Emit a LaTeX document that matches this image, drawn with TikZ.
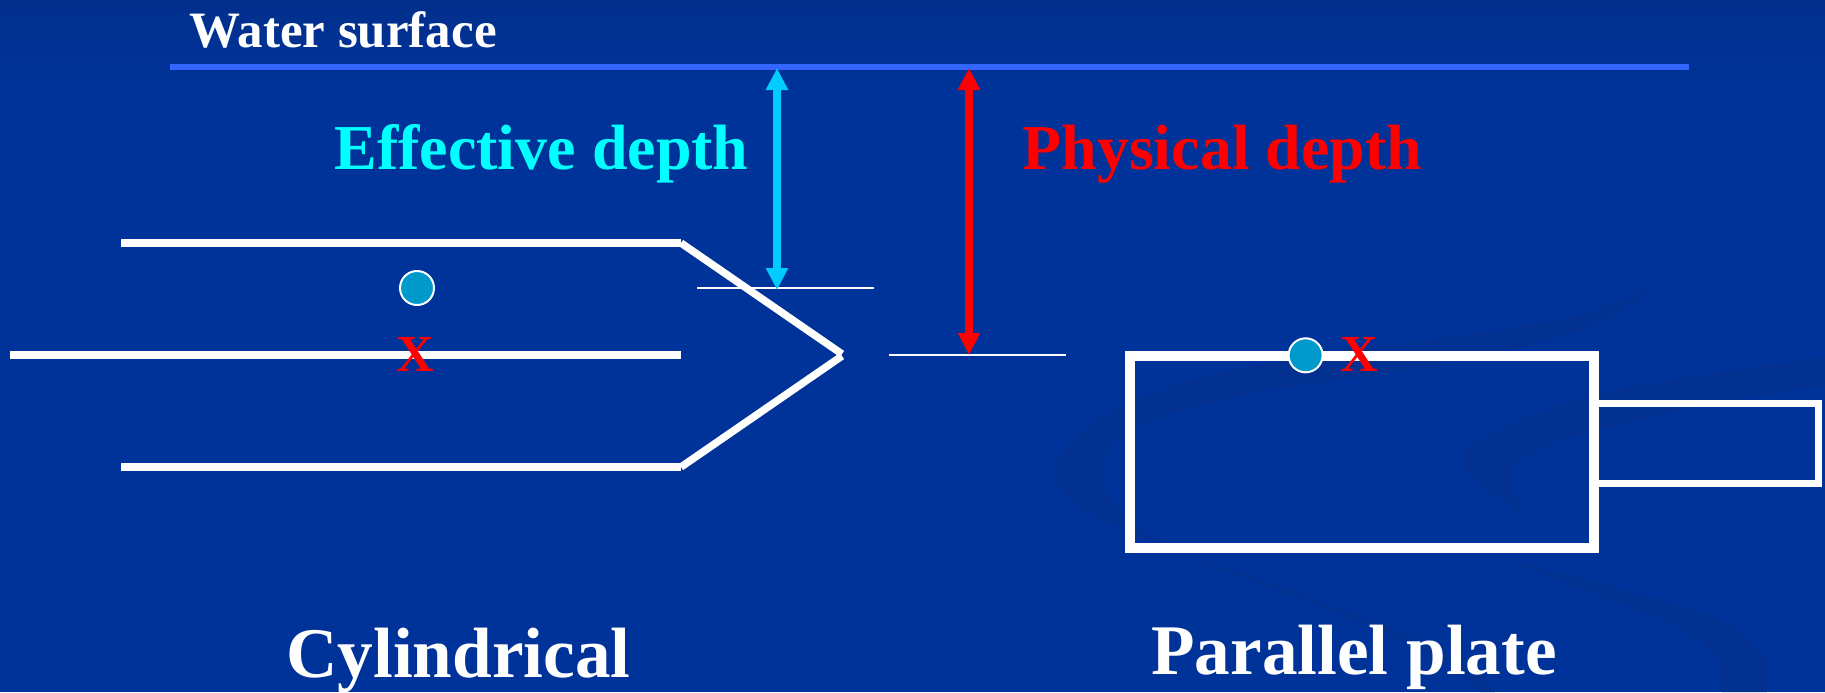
\documentclass[tikz,border=0pt]{standalone}
\usepackage{fontspec}
\setmainfont{Liberation Serif}
\usetikzlibrary{arrows.meta,shapes.geometric}
\definecolor{bgblue}{HTML}{003399}
\definecolor{bgtop}{HTML}{022F8C}
\definecolor{swirl}{HTML}{023191}
\definecolor{surf}{HTML}{3366FF}
\definecolor{effblue}{HTML}{00CCFF}
\definecolor{dotblue}{HTML}{0099CC}
\definecolor{efftext}{HTML}{00FFFF}
\definecolor{puretext}{HTML}{FF0000}
\tikzset{
  label text/.style={inner sep=0pt,anchor=base west,font=\bfseries},
  wall/.style={draw=white,line width=3.75pt},
  thinline/.style={draw=white,line width=1pt},
  depth arrow/.style={line width=3.6pt,{Triangle[width=10.5pt,length=11pt]}-{Triangle[width=10.5pt,length=11pt]}},
  dot/.style={ellipse,draw=white,fill=dotblue,line width=1pt,minimum width=17pt,minimum height=17pt,inner sep=0pt},
  xmark/.style={inner sep=0pt,anchor=base,text=puretext,font=\fontsize{26}{26}\selectfont\bfseries},
}
\begin{document}
\begin{tikzpicture}[x=0.5pt,y=-0.5pt]
\useasboundingbox (0,0) rectangle (1825,692);
\fill[bgblue] (0,0) rectangle (1825,692);
\shade[top color=bgtop,bottom color=bgblue] (0,0) rectangle (1825,90);
% background swirls
\fill[swirl] (1648,164) .. controls (1680,215) and (1685,260) .. (1640,290)
  .. controls (1590,325) and (1450,335) .. (1272,362)
  .. controls (1170,380) and (1060,420) .. (1055,471)
  .. controls (1056,520) and (1170,545) .. (1290,590)
  .. controls (1400,630) and (1480,660) .. (1495,692)
  -- (1480,692) .. controls (1450,650) and (1300,600) .. (1210,565)
  .. controls (1150,540) and (1100,510) .. (1102,468)
  .. controls (1105,420) and (1220,395) .. (1350,378)
  .. controls (1500,355) and (1620,335) .. (1655,280)
  .. controls (1680,235) and (1675,200) .. (1648,164) -- cycle;
\fill[swirl] (1825,357) .. controls (1700,375) and (1620,385) .. (1560,405)
  .. controls (1500,425) and (1462,445) .. (1460,461)
  .. controls (1462,480) and (1500,500) .. (1530,516)
  .. controls (1515,500) and (1505,485) .. (1510,471)
  .. controls (1530,440) and (1640,415) .. (1825,385) -- cycle;
\fill[swirl] (1495,554) .. controls (1600,590) and (1700,600) .. (1742,634)
  .. controls (1770,655) and (1772,675) .. (1767,692)
  -- (1722,692) .. controls (1725,670) and (1715,650) .. (1690,635)
  .. controls (1640,605) and (1560,585) .. (1495,554) -- cycle;

% named points
\coordinate (wl) at (169.5,67);
\coordinate (wr) at (1689,67);
\coordinate (effT) at (777,68);
\coordinate (effB) at (777,290);
\coordinate (phyT) at (969,68);
\coordinate (phyB) at (969,355);
\coordinate (t1l) at (697,288);
\coordinate (t1r) at (874,288);
\coordinate (t2l) at (889,355);
\coordinate (t2r) at (1066,355);
\coordinate (topL) at (121,243);
\coordinate (topR) at (681,243);
\coordinate (midL) at (9.5,355);
\coordinate (midR) at (681,355);
\coordinate (botL) at (121,467);
\coordinate (botR) at (681,467);
\coordinate (tipU) at (842,354);
\coordinate (tipL) at (842,356);
\coordinate (plateA) at (1129.5,355.5);
\coordinate (plateB) at (1594,548);
\coordinate (stemA) at (1594,403);
\coordinate (stemB) at (1818,483.5);

% water surface
\draw[surf,line width=3.1pt] (wl) -- (wr);
\node[label text,text=white,font=\fontsize{25.5}{26}\selectfont\bfseries] (water) at (189,47) {Water surface};
\node[label text,text=efftext,font=\fontsize{32}{32}\selectfont\bfseries] (eff) at (334,169) {Effective depth};
\node[label text,text=puretext,font=\fontsize{32}{32}\selectfont\bfseries] (phy) at (1022,169) {Physical depth};

% thin reference lines
\draw[thinline] (t1l) -- (t1r);
\draw[thinline] (t2l) -- (t2r);

% cylindrical chamber
\draw[wall] (topL) -- (topR);
\draw[wall] (midL) -- (midR);
\draw[wall] (botL) -- (botR);
\draw[wall] (topR) -- (tipU);
\draw[wall] (botR) -- (tipL);

% arrows
\draw[depth arrow,effblue] (effT) -- (effB);
\draw[depth arrow,puretext] (phyT) -- (phyB);

% parallel plate chamber
\draw[white,line width=3.5pt] (stemA) rectangle (stemB);
\draw[white,line width=5pt] (plateA) rectangle (plateB);

% markers
\node[dot] (d1) at (417,288) {};
\node[xmark] (x1) at (415,371) {X};
\node[dot] (d2) at (1305.6,355.3) {};
\node[xmark] (x2) at (1359,371) {X};

% captions
\node[label text,text=white,font=\fontsize{35.6}{36}\selectfont\bfseries] (cyl) at (286,677) {Cylindrical};
\node[label text,text=white,font=\fontsize{35.6}{36}\selectfont\bfseries] (par) at (1151,674) {Parallel plate};
\end{tikzpicture}
\end{document}
